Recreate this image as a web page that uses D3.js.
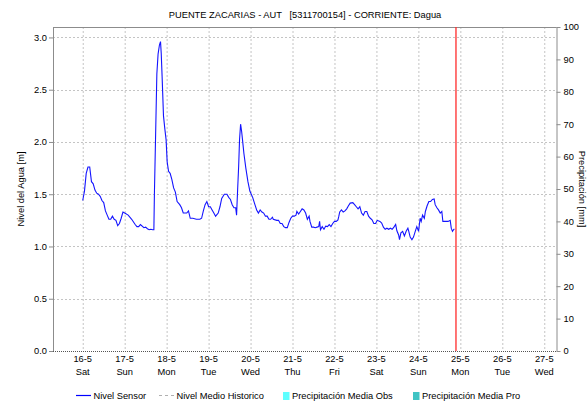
<!DOCTYPE html>
<html>
<head>
<meta charset="utf-8">
<script src="https://cdn.jsdelivr.net/npm/d3@7"></script>
<style>
    body { margin: 0; background: #fff; }
    svg { display: block; font-family: "Liberation Sans", Arial, sans-serif; }
</style>
</head>
<body>
<div id="chart"></div>
<script>
var title = 'PUENTE ZACARIAS - AUT   [5311700154] - CORRIENTE: Dagua'

// hours since 16-5-2020 00:00 and water level [m]
var sensorHour = [0, 1, 2, 3, 4, 5, 6, 7, 8, 9, 10, 11, 12, 13, 14, 15, 16, 17, 18, 19, 20, 21, 22, 23, 24, 26, 28, 30, 31, 32, 33, 35, 36, 37, 38, 39, 40, 40.7,
    41, 41.6, 42.4, 43.1, 43.9, 44.5, 44.9, 45.4, 46.2, 47, 47.7, 48.3, 49.1, 50, 51, 52, 53, 54, 55.5, 56.5, 57.5, 59.5, 60.5, 61.5, 63, 65, 67, 68, 69, 70, 71,
    72, 73, 74, 75, 76, 77.5, 78.5, 79.5, 81, 82.5, 83.5, 84.5, 85.5, 86.5, 87.5, 88, 88.6, 89.2, 89.7, 90.3, 90.9, 91.4, 92.2, 93.3, 94.5, 95.6, 97.2, 98.5,
    99.5, 100.5, 101.5, 102.5, 103.5, 104.5, 105.5, 106.5, 107.5, 108.5, 109, 111, 112, 113, 114, 115, 116, 117, 118, 119, 120, 121, 122, 122.5, 123.5, 124.5,
    125.5, 126.5, 127.5, 128.5, 129.5, 130, 131, 132, 133, 134, 135, 135.5, 136, 137, 138, 139, 140, 141, 142, 143, 144, 145, 146, 146.5, 147, 148, 149, 150,
    151, 152, 153, 154.5, 155.5, 156.5, 157.5, 158.5, 159.5, 160.5, 161.5, 162.5, 163.5, 164.5, 165.5, 166.5, 167.5, 168.5, 170, 171, 172, 173, 174, 175, 176,
    177, 178, 179, 179.7, 180.7, 181.2, 182, 183, 184, 185, 186, 186.5, 187.3, 188.3, 189.2, 190.2, 191.1, 192.1, 193, 193.6, 194.4, 195.4, 196, 197, 198, 199,
    200, 201, 201.6, 202.6, 203.5, 204.5, 205.4, 206, 207.3, 209, 210.2, 210.8, 211.5, 212.3, 212.7]
var sensorLevel = [1.44, 1.53, 1.70, 1.76, 1.76, 1.62, 1.60, 1.54, 1.51, 1.50, 1.48, 1.44, 1.42, 1.34, 1.30, 1.26, 1.26, 1.29, 1.26, 1.25, 1.20, 1.22, 1.27, 1.33, 1.32, 1.30, 1.26, 1.21, 1.19, 1.19, 1.21, 1.18, 1.185, 1.17, 1.16, 1.165, 1.16, 1.16,
    1.50, 1.99, 2.65, 2.84, 2.93, 2.96, 2.85, 2.63, 2.25, 2.12, 2.02, 1.81, 1.72, 1.70, 1.64, 1.56, 1.52, 1.43, 1.40, 1.37, 1.32, 1.32, 1.34, 1.27, 1.27, 1.26, 1.26, 1.27, 1.34, 1.40, 1.43,
    1.38, 1.38, 1.35, 1.32, 1.29, 1.32, 1.38, 1.46, 1.50, 1.50, 1.47, 1.45, 1.40, 1.37, 1.37, 1.30, 1.54, 1.77, 2.02, 2.17, 2.10, 2.02, 1.89, 1.75, 1.62, 1.53, 1.47, 1.40,
    1.35, 1.32, 1.35, 1.33, 1.32, 1.29, 1.29, 1.26, 1.26, 1.28, 1.26, 1.25, 1.25, 1.22, 1.22, 1.19, 1.18, 1.18, 1.23, 1.27, 1.29, 1.29, 1.30, 1.335, 1.31, 1.335,
    1.36, 1.35, 1.32, 1.26, 1.29, 1.24, 1.185, 1.185, 1.18, 1.185, 1.19, 1.24, 1.16, 1.19, 1.165, 1.195, 1.19, 1.21, 1.19, 1.22, 1.24, 1.24, 1.255, 1.29, 1.33, 1.35, 1.33, 1.34,
    1.36, 1.39, 1.415, 1.42, 1.40, 1.38, 1.36, 1.38, 1.32, 1.30, 1.335, 1.335, 1.29, 1.27, 1.255, 1.22, 1.22, 1.25, 1.24, 1.225, 1.185, 1.165, 1.175, 1.165, 1.175,
    1.165, 1.185, 1.21, 1.15, 1.11, 1.065, 1.13, 1.145, 1.10, 1.145, 1.175, 1.145, 1.09, 1.065, 1.09, 1.145, 1.19, 1.145, 1.27, 1.24, 1.30, 1.27, 1.335, 1.39, 1.43, 1.43,
    1.45, 1.455, 1.40, 1.37, 1.35, 1.32, 1.335, 1.24, 1.24, 1.24, 1.25, 1.175, 1.145, 1.165, 1.165]

var levelTicks = [0, 0.5, 1, 1.5, 2, 2.5, 3]
var rainTicks = [0, 10, 20, 30, 40, 50, 60, 70, 80, 90, 100]
var legendItems = ['Nivel Sensor', 'Nivel Medio Historico', 'Precipitación Media Obs', 'Precipitación Media Pro']

var start = new Date(2020, 4, 16, 0),
    now = new Date(2020, 4, 24, 21, 30),
    width = 587,
    height = 401,
    margins = { top: 27, right: 30.5, bottom: 50, left: 53 },
    innerWidth = width - margins.left - margins.right,
    innerHeight = height - margins.top - margins.bottom,
    axisColor = '#8c8c8c',
    gridColor = '#c4c4c4',
    fontSize = '9.3px'

var data = sensorHour.map(function (h, i) {
    return { date: new Date(start.getTime() + h * 3600000), value: sensorLevel[i] }
})

// scales in page coordinates, so every text sits directly in the svg
var x = d3.scaleTime().domain([new Date(2020, 4, 15, 7), new Date(2020, 4, 27, 7)]).range([margins.left, margins.left + innerWidth]),
    y = d3.scaleLinear().domain([0, 3.1]).range([margins.top + innerHeight, margins.top]),
    yRain = d3.scaleLinear().domain([0, 100]).range([margins.top + innerHeight, margins.top])

var plotLeft = margins.left, plotRight = margins.left + innerWidth,
    plotTop = margins.top, plotBottom = margins.top + innerHeight

var svg = d3.select('#chart').append('svg')
    .attr('width', width)
    .attr('height', height)

var days = d3.timeDay.range(new Date(2020, 4, 16), new Date(2020, 4, 28))

// grid
svg.append('g').selectAll('line').data(days).join('line')
    .attr('x1', d => x(d) + 0.5).attr('x2', d => x(d) + 0.5)
    .attr('y1', plotTop).attr('y2', plotBottom)
    .attr('stroke', gridColor).attr('stroke-dasharray', '2,2')

svg.append('g').selectAll('line').data(levelTicks.filter(d => d > 0)).join('line')
    .attr('x1', plotLeft).attr('x2', plotRight)
    .attr('y1', d => Math.round(y(d)) + 0.5).attr('y2', d => Math.round(y(d)) + 0.5)
    .attr('stroke', gridColor).attr('stroke-dasharray', '2,2')

// frame
svg.append('line')
    .attr('x1', plotLeft).attr('x2', plotRight).attr('y1', plotTop + 0.5).attr('y2', plotTop + 0.5)
    .attr('stroke', axisColor)

svg.append('line')
    .attr('x1', plotLeft).attr('x2', plotRight).attr('y1', plotBottom + 0.5).attr('y2', plotBottom + 0.5)
    .attr('stroke', '#555').attr('stroke-dasharray', '1,1')

// axes: lines and ticks from d3, labels placed below
var leftAxis = svg.append('g')
    .attr('transform', 'translate(' + plotLeft + ',0)')
    .call(d3.axisLeft(y).tickValues(levelTicks).tickFormat('').tickSize(4))
leftAxis.select('.domain').attr('stroke', axisColor).attr('d', 'M0.5,' + plotTop + 'V' + plotBottom)
leftAxis.selectAll('.tick line').attr('stroke', axisColor)
leftAxis.selectAll('.tick text').remove()

var rightAxis = svg.append('g')
    .attr('transform', 'translate(' + plotRight + ',0)')
    .call(d3.axisRight(yRain).tickValues(rainTicks).tickFormat('').tickSize(4))
rightAxis.select('.domain').attr('stroke', axisColor).attr('d', 'M0.5,' + plotTop + 'V' + plotBottom)
rightAxis.selectAll('.tick line').attr('stroke', axisColor)
rightAxis.selectAll('.tick text').remove()

var labels = svg.append('g').attr('font-size', fontSize).attr('fill', '#000')

labels.append('g').attr('text-anchor', 'end')
    .selectAll('text').data(levelTicks).join('text')
    .attr('x', plotLeft - 6).attr('y', d => y(d) + 3.3)
    .text(d3.format('.1f'))

labels.append('g')
    .selectAll('text').data(rainTicks).join('text')
    .attr('x', plotRight + 7).attr('y', d => yRain(d) + 3.3)
    .text(d => d)

var dayLabels = labels.append('g').attr('text-anchor', 'middle')
dayLabels.selectAll('.day').data(days).join('text')
    .attr('class', 'day')
    .attr('x', d => x(d)).attr('y', plotBottom + 11)
    .text(d3.timeFormat('%-d-%-m'))
dayLabels.selectAll('.weekday').data(days).join('text')
    .attr('class', 'weekday')
    .attr('x', d => x(d)).attr('y', plotBottom + 24)
    .text(d3.timeFormat('%a'))

labels.append('text')
    .attr('x', 305).attr('y', 18)
    .attr('text-anchor', 'middle')
    .attr('xml:space', 'preserve')
    .text(title)

labels.append('text')
    .attr('transform', 'translate(24,' + (plotTop + innerHeight / 2) + ') rotate(-90)')
    .attr('text-anchor', 'middle')
    .text('Nivel del Agua [m]')

labels.append('text')
    .attr('transform', 'translate(579,' + (plotTop + innerHeight / 2) + ') rotate(90)')
    .attr('text-anchor', 'middle')
    .text('Precipitación [mm]')

// sensor line
var line = d3.line().x(d => x(d.date)).y(d => y(d.value))

svg.append('path')
    .datum(data)
    .attr('d', line)
    .attr('fill', 'none')
    .attr('stroke', '#1414ff')
    .attr('stroke-width', 1.1)

// current time marker
svg.append('line')
    .attr('x1', x(now)).attr('x2', x(now))
    .attr('y1', plotTop).attr('y2', plotBottom)
    .attr('stroke', '#ff2a2a').attr('stroke-width', 1.3)

// legend
var legend = svg.append('g').attr('font-size', fontSize)
var legendX = [76, 159, 283, 413]

legend.append('line').attr('x1', legendX[0]).attr('x2', legendX[0] + 15).attr('y1', 395.5).attr('y2', 395.5)
    .attr('stroke', '#0000ff').attr('stroke-width', 1.2)
legend.append('line').attr('x1', legendX[1]).attr('x2', legendX[1] + 16).attr('y1', 395.5).attr('y2', 395.5)
    .attr('stroke', '#b0b0b0').attr('stroke-dasharray', '3,3')
legend.append('rect').attr('x', legendX[2]).attr('y', 392).attr('width', 6.5).attr('height', 8).attr('fill', '#5effff')
legend.append('rect').attr('x', legendX[3]).attr('y', 392).attr('width', 6.5).attr('height', 8).attr('fill', '#40c4c4')

legend.selectAll('text').data(legendItems).join('text')
    .attr('x', (d, i) => legendX[i] + (i < 2 ? 17.5 : 9))
    .attr('y', 399)
    .text(d => d)
</script>
</body>
</html>
